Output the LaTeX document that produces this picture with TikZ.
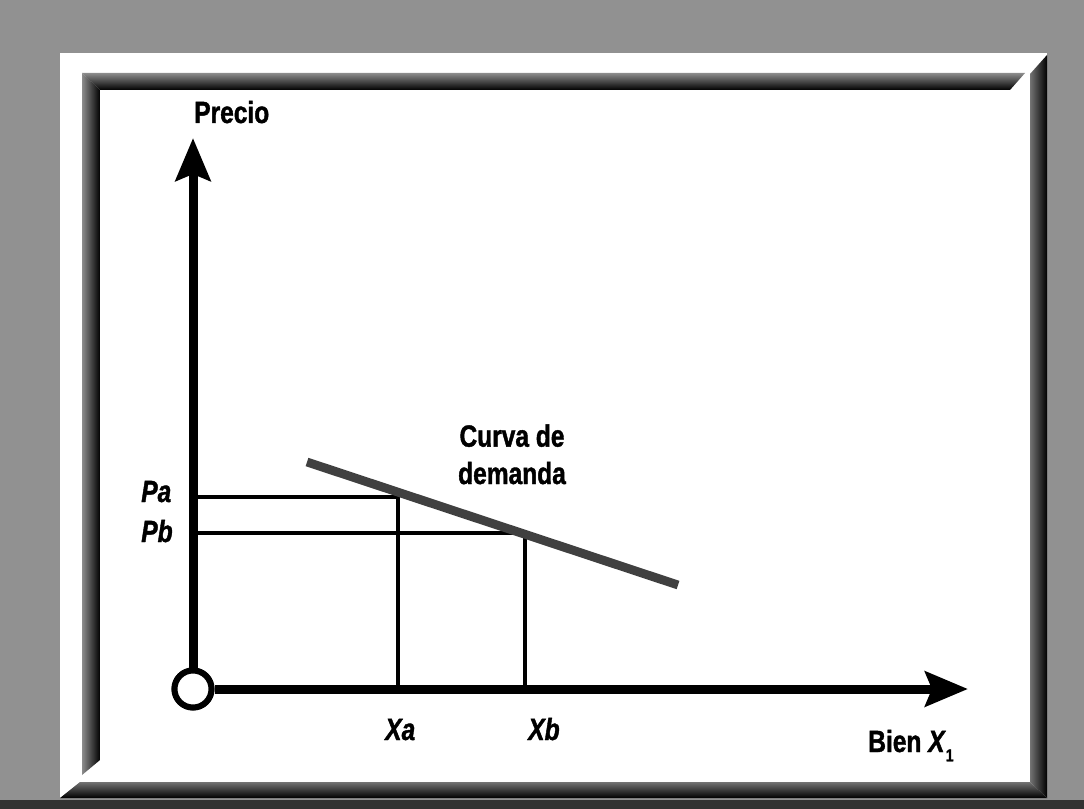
\documentclass[tikz,border=0pt]{standalone}
\usepackage{fontspec}
\setmainfont{Liberation Sans}
\newfontfamily\cond[FakeStretch=0.8,FakeBold=1.3]{Liberation Sans}
\usetikzlibrary{arrows.meta}
\definecolor{bggray}{RGB}{145,145,145}
\definecolor{curvegray}{RGB}{64,64,64}
\definecolor{darkband}{RGB}{50,50,50}
\begin{document}
\begin{tikzpicture}[x=0.75pt,y=-0.75pt,
  lbl/.style={inner sep=0pt, font=\cond\bfseries\fontsize{23pt}{28pt}\selectfont},
  lbli/.style={lbl, font=\cond\bfseries\itshape\fontsize{23pt}{28pt}\selectfont},
  axis/.style={line width=6.75pt, -{Stealth[length=32pt, width=26pt, inset=5pt]}},
  guide/.style={line width=2.3pt},
  curve/.style={line width=6.6pt, curvegray},
  origin/.style={circle, draw, fill=white, line width=4.5pt, minimum size=27.75pt, inner sep=0pt}]
\useasboundingbox (0,0) rectangle (1084,809);
% background and frame
\fill[bggray] (0,0) rectangle (1084,809);
\fill[darkband] (0,800) rectangle (1084,809);
\fill[white] (60,53) rectangle (1047,798);
\shade[left color=black!55, right color=black] (1030,74) -- (1047,55) -- (1047,798) -- (1030,782) -- cycle;
\shade[top color=black!55, bottom color=black] (60,798) -- (80,782) -- (1030,782) -- (1047,798) -- cycle;
\shade[left color=black!45, right color=black] (82,73) -- (100,90) -- (100,760) -- (82,775) -- cycle;
\shade[top color=black!45, bottom color=black] (82,73) -- (1025,73) -- (1010,90) -- (100,90) -- cycle;
% chart
\coordinate (ytip) at (193,138);
\coordinate (xtip) at (968,689);
\coordinate (A) at (398,497);
\coordinate (B) at (525,533);
\coordinate (d1) at (307,462);
\coordinate (d2) at (678,585);
\node[origin] (O) at (193,689) {};
\draw[guide] (O.center |- A) -- (A) -- (A |- O.center);
\draw[guide] (O.center |- B) -- (B) -- (B |- O.center);
\draw[curve] (d1) -- (d2);
\draw[axis] (O.north) -- (ytip);
\draw[axis] (O.east) -- (xtip);
\node[origin] at (O) {};
% labels
\node[lbl, anchor=base west] (precio) at (194,123) {Precio};
\node[lbli, anchor=base west] (pa) at (141,502) {Pa};
\node[lbli, anchor=base west] (pb) at (141,542) {Pb};
\node[lbli, anchor=base west] (xa) at (385,740) {Xa};
\node[lbli, anchor=base west] (xb) at (528,740) {Xb};
\node[lbl, anchor=base west] (bien) at (868,752) {Bien \textit{X}\raisebox{-7pt}{\fontsize{13pt}{13pt}\selectfont 1}};
\node[lbl, align=center, anchor=base] (curva) at (512,484) {Curva de\\demanda};
\end{tikzpicture}
\end{document}
